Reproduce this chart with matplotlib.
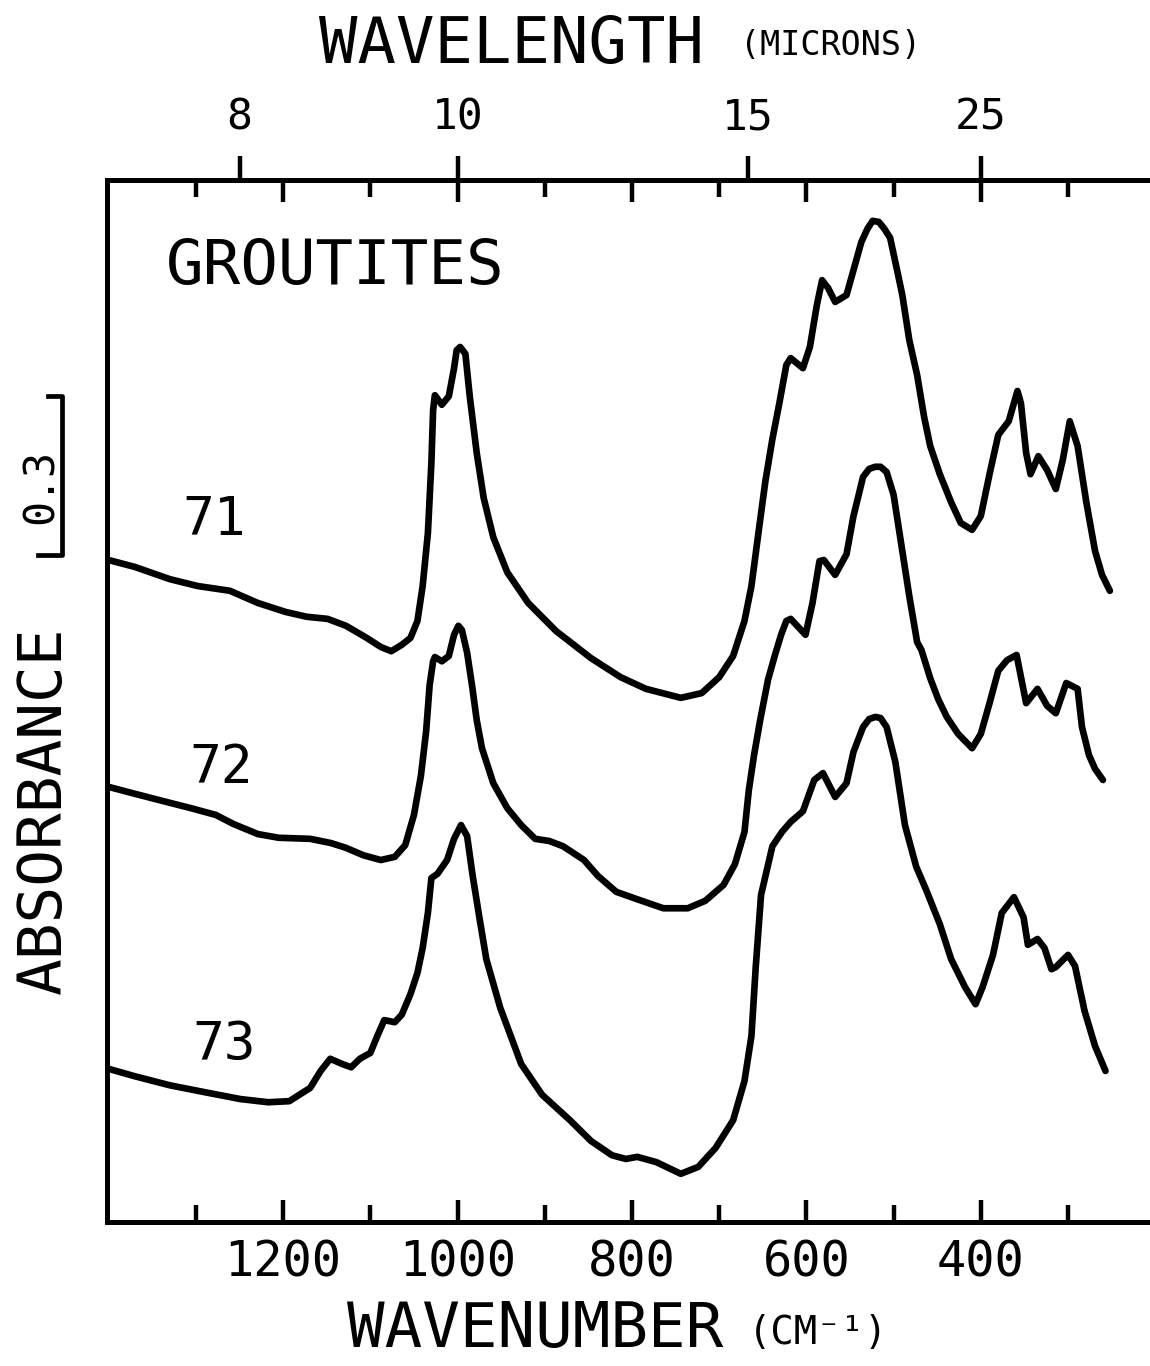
import matplotlib
matplotlib.use("Agg")
import matplotlib.pyplot as plt
import numpy as np
from matplotlib.ticker import FixedLocator, NullLocator
from matplotlib.transforms import blended_transform_factory

wn_71 = [1400, 1370, 1330, 1298, 1261, 1229, 1197, 1173, 1149, 1128, 1104, 1088, 1076,
         1064, 1054, 1046, 1040, 1034, 1030, 1028, 1026, 1018, 1010, 1004, 1001, 997, 991,
         986, 978, 970, 959, 943, 919, 887, 847, 813, 784, 744, 720, 700, 684, 671, 663,
         655, 647, 639, 631, 623, 618, 604, 596, 588, 582, 575, 567, 554, 546, 537, 530,
         524, 517, 511, 504, 496, 490, 482, 473, 465, 458, 447, 434, 423, 410, 400, 390,
         380, 368, 358, 354, 348, 343, 334, 324, 314, 306, 298, 289, 279, 269, 261, 252]
abs_71 = [1.249, 1.236, 1.213, 1.200, 1.191, 1.168, 1.151, 1.142, 1.138, 1.125, 1.102, 1.085,
          1.077, 1.089, 1.102, 1.134, 1.200, 1.300, 1.432, 1.532, 1.560, 1.542, 1.558, 1.611,
          1.645, 1.651, 1.638, 1.558, 1.451, 1.366, 1.292, 1.226, 1.168, 1.115, 1.064, 1.028,
          1.006, 0.989, 0.998, 1.028, 1.068, 1.134, 1.200, 1.300, 1.398, 1.477, 1.545, 1.617,
          1.630, 1.611, 1.651, 1.730, 1.777, 1.762, 1.736, 1.749, 1.796, 1.849, 1.874, 1.889,
          1.887, 1.875, 1.857, 1.796, 1.749, 1.664, 1.598, 1.519, 1.464, 1.411, 1.358, 1.319,
          1.306, 1.332, 1.411, 1.485, 1.511, 1.568, 1.545, 1.451, 1.411, 1.445, 1.419, 1.383,
          1.438, 1.511, 1.464, 1.358, 1.266, 1.221, 1.191]

wn_72 = [1400, 1370, 1330, 1306, 1277, 1257, 1229, 1205, 1169, 1145, 1128, 1108, 1088,
         1072, 1060, 1050, 1042, 1036, 1032, 1028, 1026, 1018, 1010, 1004, 999, 995, 989,
         983, 978, 972, 959, 943, 927, 911, 895, 879, 855, 839, 818, 794, 764, 736, 716,
         695, 682, 671, 666, 660, 653, 644, 636, 629, 623, 618, 601, 593, 585, 580, 567,
         554, 546, 535, 528, 521, 515, 508, 500, 490, 482, 473, 468, 458, 449, 439, 426,
         410, 400, 390, 380, 370, 359, 348, 335, 324, 314, 302, 289, 284, 276, 269, 260]
abs_72 = [0.821, 0.808, 0.791, 0.781, 0.768, 0.751, 0.732, 0.725, 0.723, 0.715, 0.706, 0.692,
          0.683, 0.689, 0.711, 0.768, 0.842, 0.926, 1.013, 1.058, 1.066, 1.058, 1.068, 1.108,
          1.125, 1.117, 1.074, 1.008, 0.947, 0.894, 0.828, 0.781, 0.749, 0.723, 0.719, 0.709,
          0.683, 0.653, 0.623, 0.609, 0.592, 0.592, 0.606, 0.636, 0.675, 0.736, 0.815, 0.881,
          0.947, 1.023, 1.070, 1.108, 1.134, 1.138, 1.108, 1.168, 1.247, 1.249, 1.221, 1.260,
          1.332, 1.406, 1.421, 1.425, 1.425, 1.415, 1.372, 1.266, 1.181, 1.094, 1.079, 1.026,
          0.987, 0.953, 0.921, 0.894, 0.921, 0.979, 1.040, 1.060, 1.070, 0.979, 1.006, 0.974,
          0.960, 1.017, 1.006, 0.934, 0.881, 0.855, 0.834]

wn_73 = [1400, 1370, 1330, 1290, 1249, 1217, 1193, 1169, 1157, 1146, 1132, 1122, 1112,
         1100, 1092, 1084, 1072, 1064, 1054, 1046, 1040, 1034, 1030, 1023, 1012, 1004, 996,
         989, 983, 975, 967, 951, 927, 903, 871, 847, 823, 807, 794, 772, 744, 724, 704,
         684, 671, 663, 658, 652, 639, 628, 618, 604, 591, 581, 567, 554, 546, 535, 528,
         521, 515, 508, 498, 487, 474, 463, 447, 434, 418, 406, 398, 386, 376, 362, 351,
         346, 335, 327, 319, 314, 300, 292, 281, 269, 257]
abs_73 = [0.289, 0.275, 0.258, 0.245, 0.232, 0.226, 0.228, 0.253, 0.285, 0.308, 0.298, 0.292,
          0.308, 0.319, 0.351, 0.381, 0.377, 0.391, 0.430, 0.470, 0.517, 0.583, 0.649, 0.657,
          0.683, 0.723, 0.749, 0.728, 0.657, 0.575, 0.496, 0.404, 0.298, 0.240, 0.192, 0.153,
          0.126, 0.119, 0.123, 0.113, 0.091, 0.104, 0.140, 0.192, 0.266, 0.351, 0.483, 0.617,
          0.709, 0.736, 0.755, 0.775, 0.834, 0.847, 0.802, 0.828, 0.887, 0.934, 0.949, 0.953,
          0.951, 0.934, 0.868, 0.749, 0.670, 0.628, 0.562, 0.496, 0.443, 0.411, 0.443, 0.504,
          0.583, 0.613, 0.575, 0.523, 0.534, 0.517, 0.477, 0.481, 0.504, 0.483, 0.398, 0.332,
          0.285]

sample_names = ["71", "72", "73"]
label_wn = [1315, 1307, 1304]
label_abs = [1.325, 0.857, 0.334]

wn_major = [1200, 1000, 800, 600, 400]
wn_minor = [1300, 1100, 900, 700, 500, 300]
wavelength_ticks = [8, 10, 15, 25]
scale_bar_bottom = 1.258
scale_bar_size = 0.3

plt.rcParams["font.family"] = "DejaVu Sans Mono"

fig = plt.figure(figsize=(11.5, 13.66), dpi=100)
ax = fig.add_axes([0.093, 0.1054, 0.907, 0.7628])

for wn, ab in [(wn_71, abs_71), (wn_72, abs_72), (wn_73, abs_73)]:
    ax.plot(wn, ab, color="black", linewidth=4.8, solid_joinstyle="round",
            solid_capstyle="round")

ax.set_xlim(1402, 206)
ax.set_ylim(0, 1.966)

for side in ["left", "bottom", "top"]:
    ax.spines[side].set_linewidth(3.6)
ax.spines["right"].set_visible(False)

ax.xaxis.set_major_locator(FixedLocator(wn_major))
ax.xaxis.set_minor_locator(FixedLocator(wn_minor))
ax.set_xticklabels([str(v) for v in wn_major])
ax.tick_params(axis="x", which="major", direction="in", length=16, width=3.2,
               top=True, labelsize=35, pad=12)
ax.tick_params(axis="x", which="minor", direction="in", length=12, width=3.2, top=True)
ax.set_yticks([])

# top axis: wavelength in microns
to_um = lambda x: 1.0e4 / np.asarray(x, dtype=float)
sec = ax.secondary_xaxis("top", functions=(to_um, to_um))
sec.xaxis.set_major_locator(FixedLocator(wavelength_ticks))
sec.xaxis.set_minor_locator(NullLocator())
sec.set_xticklabels([str(v) for v in wavelength_ticks])
sec.tick_params(axis="x", direction="out", length=17, width=3.2, labelsize=31, pad=13)
sec.spines["top"].set_linewidth(3.6)

# sample labels and title
for name, x, y in zip(sample_names, label_wn, label_abs):
    ax.text(x, y, name, fontsize=38, ha="left", va="center")
ax.text(1335, 1.802, "GROUTITES", fontsize=45, ha="left", va="center")

# absorbance scale bar
bt = blended_transform_factory(fig.transFigure, ax.transData)
bar_top = scale_bar_bottom + scale_bar_size
ax.plot([0.033, 0.054, 0.054, 0.042], [scale_bar_bottom, scale_bar_bottom, bar_top, bar_top],
        color="black", linewidth=3.4, transform=bt, clip_on=False)
ax.text(0.035, scale_bar_bottom + 0.13, "0.3", fontsize=30, rotation=90,
        ha="center", va="center", transform=bt)

fig.text(0.039, 0.407, "ABSORBANCE", fontsize=44, rotation=90, ha="center", va="center")
fig.text(0.445, 0.967, "WAVELENGTH", fontsize=46, ha="center", va="center")
fig.text(0.722, 0.967, "(MICRONS)", fontsize=24, ha="center", va="center")
fig.text(0.465, 0.026, "WAVENUMBER", fontsize=45, ha="center", va="center")
fig.text(0.711, 0.024, "(CM⁻¹)", fontsize=28, ha="center", va="center")

fig.savefig("out.png", dpi=100)
